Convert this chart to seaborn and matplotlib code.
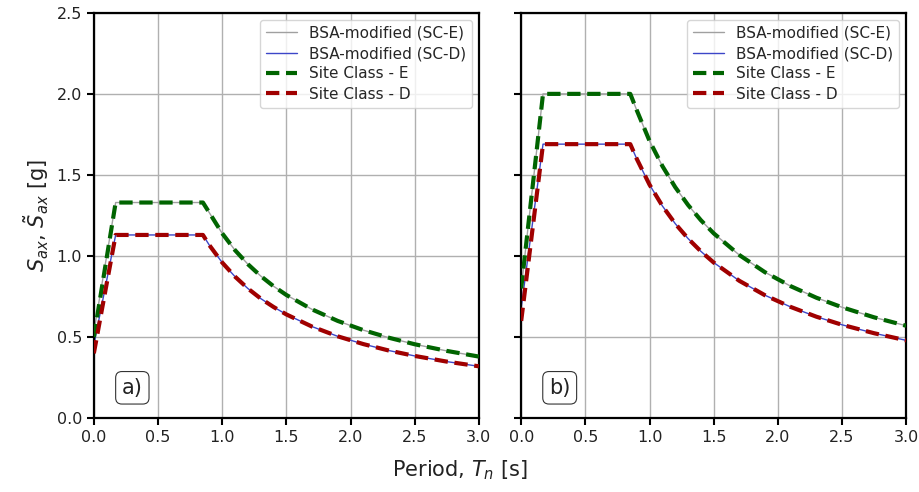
import numpy as np
import pandas as pd
import seaborn as sns
import matplotlib.pyplot as plt

# periods [s]
period = [0.0, 0.17, 0.85, 0.9, 1.0, 1.1, 1.2, 1.3, 1.4, 1.5, 1.7, 1.9, 2.1, 2.3, 2.5, 2.75, 3.0]

# panel a)
a_bsa_e = [0.53, 1.33, 1.33, 1.267, 1.14, 1.036, 0.95, 0.877, 0.814, 0.76, 0.671, 0.60, 0.543, 0.496, 0.456, 0.415, 0.38]
a_bsa_d = [0.45, 1.13, 1.13, 1.067, 0.96, 0.873, 0.80, 0.738, 0.686, 0.64, 0.565, 0.505, 0.457, 0.417, 0.384, 0.349, 0.32]
a_site_e = [0.50, 1.33, 1.33, 1.267, 1.14, 1.036, 0.95, 0.877, 0.814, 0.76, 0.671, 0.60, 0.543, 0.496, 0.456, 0.415, 0.38]
a_site_d = [0.40, 1.13, 1.13, 1.067, 0.96, 0.873, 0.80, 0.738, 0.686, 0.64, 0.565, 0.505, 0.457, 0.417, 0.384, 0.349, 0.32]

# panel b)
b_bsa_e = [0.80, 2.00, 2.00, 1.90, 1.71, 1.555, 1.425, 1.315, 1.221, 1.14, 1.006, 0.90, 0.814, 0.743, 0.684, 0.622, 0.57]
b_bsa_d = [0.68, 1.69, 1.69, 1.60, 1.44, 1.309, 1.20, 1.108, 1.029, 0.96, 0.847, 0.758, 0.686, 0.626, 0.576, 0.524, 0.48]
b_site_e = [0.80, 2.00, 2.00, 1.90, 1.71, 1.555, 1.425, 1.315, 1.221, 1.14, 1.006, 0.90, 0.814, 0.743, 0.684, 0.622, 0.57]
b_site_d = [0.60, 1.69, 1.69, 1.60, 1.44, 1.309, 1.20, 1.108, 1.029, 0.96, 0.847, 0.758, 0.686, 0.626, 0.576, 0.524, 0.48]

panel_labels = ["a)", "b)"]
series_labels = ["BSA-modified (SC-E)", "BSA-modified (SC-D)", "Site Class - E", "Site Class - D"]


def build_df(values):
    """Long-form table for one panel."""
    frames = []
    for label, vals in zip(series_labels, values):
        frames.append(pd.DataFrame({"T": period, "Sa": vals, "series": label}))
    return pd.concat(frames, ignore_index=True)


styles = {
    "BSA-modified (SC-E)": dict(color="#a0a0a0", lw=1.0, ls="-"),
    "BSA-modified (SC-D)": dict(color="#3c46c8", lw=1.0, ls="-"),
    "Site Class - E": dict(color="#006400", lw=3.0, ls=(0, (3.2, 1.6))),
    "Site Class - D": dict(color="#a00000", lw=3.0, ls=(0, (3.2, 1.6))),
}

sns.set_theme(style="ticks")
plt.rcParams['font.family'] = ['DejaVu Sans']

fig, axes = plt.subplots(1, 2, figsize=(9.2, 4.92), dpi=100, sharey=True)
fig.subplots_adjust(left=0.102, right=0.985, top=0.974, bottom=0.15, wspace=0.11)

panels = [
    build_df([a_bsa_e, a_bsa_d, a_site_e, a_site_d]),
    build_df([b_bsa_e, b_bsa_d, b_site_e, b_site_d]),
]

for ax, df, plabel in zip(axes, panels, panel_labels):
    for name in series_labels:
        st = styles[name]
        sns.lineplot(data=df[df["series"] == name], x="T", y="Sa", ax=ax,
                     color=st["color"], linewidth=st["lw"], linestyle=st["ls"],
                     label=name)
    ax.set_xlim(0, 3.0)
    ax.set_ylim(0, 2.5)
    ax.set_xticks(np.arange(0, 3.01, 0.5))
    ax.set_yticks(np.arange(0, 2.51, 0.5))
    ax.grid(True, color="#b0b0b0", linewidth=1.0)
    ax.set_axisbelow(True)
    ax.set_xlabel("")
    ax.set_ylabel("")
    for sp in ax.spines.values():
        sp.set_color("black")
        sp.set_linewidth(1.6)
    ax.tick_params(axis="both", direction="out", length=5, width=1.5,
                   labelsize=11.5, color="black", labelcolor="#222222")
    ax.legend(loc="upper right", fontsize=11, frameon=True, fancybox=True,
              framealpha=0.8, edgecolor="#cccccc", handlelength=2.0,
              borderaxespad=0.45, labelspacing=0.35)
    ax.text(0.10, 0.075, plabel, transform=ax.transAxes, fontsize=15,
            ha="center", va="center", color="#222222",
            bbox=dict(boxstyle="round,pad=0.3", facecolor="white", edgecolor="#333333", linewidth=0.8))

# dashed code lines on top of the thin BSA ones
for ax in axes:
    for line in ax.get_lines():
        if line.get_linewidth() > 2:
            line.set_zorder(4)

axes[0].set_ylabel(r"$S_{ax}$, $\tilde{S}_{ax}$ [g]", fontsize=15, color="#222222")
fig.supxlabel(r"Period, $T_n$ [s]", fontsize=15, y=0.02, color="#222222")

fig.savefig("out.png", dpi=100)
